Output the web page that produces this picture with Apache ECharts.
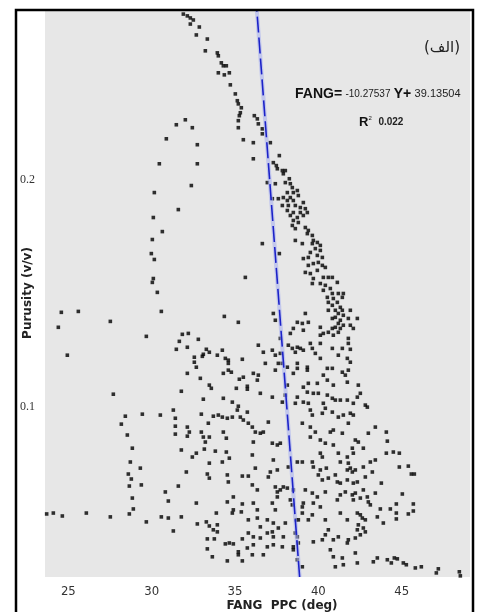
<!DOCTYPE html>
<html>
<head>
<meta charset="utf-8">
<script src="https://cdn.jsdelivr.net/npm/echarts@6/dist/echarts.min.js"></script>
<style>html,body{margin:0;padding:0;background:#fff;}#c{width:481px;height:612px;}</style>
</head>
<body>
<div id="c"></div>
<script>
// ---- data (FANG PPC in deg, Porosity in v/v) ----
const xTicks = [25, 30, 35, 40, 45];
const yTicks = [0.1, 0.2];
const fitCoef = { slope: -10.27537, intercept: 39.13504, r2: 0.022 };
const fitLine = [[38.878, 0.025], [36.309, 0.275]];

const upperTrend = [
[31.9,0.2732],[32.14,0.2724],[32.32,0.2715],[32.5,0.2706],[32.32,0.2688],[32.86,0.2675],[32.68,0.264],[33.34,0.2622],
[33.22,0.257],[33.94,0.2561],[34.0,0.2548],[34.18,0.2517],[34.3,0.2504],[34.48,0.2504],[34.0,0.2473],[34.36,0.2464],
[34.66,0.2473],[34.72,0.242],[35.02,0.238],[35.14,0.235],[35.2,0.2336],[35.38,0.2319],[35.32,0.2297],[35.26,0.2284],
[35.2,0.2262],[35.2,0.2231],[36.16,0.2284],[36.34,0.227],[36.4,0.2248],[36.64,0.2226]
];
const leftLoop = [
[32.02,0.2266],[31.48,0.2244],[32.44,0.2231],[30.88,0.2182],[32.74,0.2156],[30.46,0.2072],[32.74,0.2072],[32.38,0.1976],
[30.16,0.1945],[31.6,0.187],[30.1,0.1835],[30.64,0.1773],[30.04,0.1738],[29.98,0.1676],[30.16,0.165],[30.1,0.1566],
[30.04,0.1549],[30.34,0.1505],[24.58,0.1417],[25.6,0.1421],[24.4,0.1351],[24.94,0.1228],[35.62,0.1571]
];
const denseBand = [
[35.5,0.2178],[36.1,0.2165],[36.64,0.2204],[36.1,0.2094],[37.12,0.2165],[37.66,0.2108],[37.3,0.2077],[37.48,0.2064],
[37.54,0.205],[37.84,0.2042],[38.02,0.2042],[37.9,0.2028],[36.94,0.1989],[37.42,0.1984],[38.02,0.1989],[38.26,0.2006],
[38.32,0.1984],[38.44,0.1967],[38.14,0.1945],[38.5,0.1945],[38.74,0.1954],[38.8,0.1932],[38.32,0.1923],[37.9,0.1923],
[37.6,0.1918],[37.24,0.1918],[38.14,0.191],[38.5,0.191],[39.1,0.1901],[37.84,0.1888],[38.2,0.1888],[38.62,0.1888],
[38.92,0.1879],[39.22,0.1874],[38.14,0.1866],[38.5,0.1857],[38.92,0.1857],[39.34,0.1857],[38.32,0.1844],[38.74,0.1835],
[39.1,0.1844],[38.5,0.1822],[38.8,0.1813],[38.44,0.18],[38.62,0.1786],[39.22,0.1791],[39.4,0.1778],[39.34,0.1764],
[39.64,0.1756],[39.7,0.1734],[39.94,0.1725],[39.64,0.172],[40.12,0.1712],[39.82,0.1698],[40.12,0.169],[39.52,0.1681],
[39.94,0.1668],[40.24,0.1659],[39.4,0.1659],[39.1,0.1654],[38.62,0.1734],[39.04,0.172],[36.64,0.172],[37.66,0.1676],
[39.4,0.1624],[39.7,0.1632],[40.0,0.1637],[40.24,0.1624],[39.22,0.1593],[39.52,0.1588],[39.94,0.1602],[40.42,0.1615],
[40.6,0.1571],[40.3,0.1571],[40.84,0.1571],[39.7,0.1566],[39.64,0.1544],[40.12,0.1544],[40.42,0.1536],[41.14,0.1549],
[40.72,0.1522],[40.3,0.1514],[40.84,0.15],[41.2,0.15],[41.5,0.15],[40.54,0.1483],[40.9,0.1478],[41.44,0.1483],
[40.6,0.1461],[41.14,0.1461],[40.84,0.1448],[41.32,0.1439],[41.02,0.1426],[41.44,0.1426],[41.92,0.1426],[40.6,0.1426],
[41.2,0.1412],[41.5,0.1404],[41.02,0.1395],[40.84,0.139],[41.32,0.1382],[41.8,0.139],[42.34,0.139],[41.2,0.1368],
[41.02,0.1351],[41.5,0.136],[40.84,0.1346],[41.32,0.1346],[41.92,0.136],[42.1,0.1346]
];
const midCloud = [
[39.22,0.1412],[37.3,0.1412],[37.42,0.1382],[38.74,0.1373],[39.04,0.1368],[39.4,0.1373],[39.1,0.1338],[38.5,0.1346],
[38.32,0.1324],[37.72,0.1302],[40.12,0.1351],[40.3,0.1324],[40.6,0.1329],[40.12,0.1316],[40.9,0.1316],[41.2,0.1329],
[41.8,0.1302],[41.8,0.128],[36.4,0.1272],[36.7,0.1241],[37.24,0.125],[37.42,0.1228],[37.72,0.1236],[38.2,0.1272],
[38.44,0.1258],[38.74,0.1263],[38.92,0.1258],[38.62,0.1241],[39.1,0.125],[39.52,0.128],[39.64,0.1258],[40.12,0.128],
[40.84,0.1258],[41.44,0.1258],[41.92,0.1254],[39.82,0.1236],[40.12,0.1214],[41.2,0.1228],[41.74,0.1214],[36.82,0.1192],
[37.42,0.1162],[37.6,0.1192],[37.84,0.1192],[38.14,0.1175],[38.74,0.1192],[38.74,0.117],[39.34,0.1175],[39.34,0.1162],
[40.54,0.117],[40.84,0.117],[41.44,0.1153],[41.8,0.1162],[41.92,0.1197],[36.1,0.1148],[36.4,0.114],[36.34,0.1118],
[38.5,0.1148],[40.3,0.114],[41.62,0.114],[41.74,0.1109],[40.54,0.1118],
[30.58,0.1421],[27.52,0.1377],[34.36,0.1399],[35.2,0.1373],[29.68,0.1311],[31.84,0.132],[32.2,0.1324],[31.66,0.1289],
[31.48,0.1254],[32.14,0.1263],[32.8,0.1298],[33.28,0.1254],[33.1,0.1232],[33.04,0.1223],[33.46,0.1241],[33.94,0.1228],
[34.24,0.125],[34.42,0.1214],[34.6,0.1206],[34.6,0.1192],[35.44,0.121],[32.56,0.1219],[32.56,0.1197],[32.68,0.1175],
[32.14,0.1148],[32.92,0.1126],[34.3,0.1148],[34.6,0.1162],[34.78,0.1153],[35.26,0.1122],[35.5,0.1131],[35.74,0.1091],
[35.74,0.1078],[35.08,0.1082],[33.46,0.1096],[33.58,0.1082],[31.78,0.1069],[27.7,0.1056],[33.1,0.1034],[34.3,0.1038],
[34.84,0.1021],[35.2,0.1003],
[38.14,0.1096],[39.1,0.1087],[39.4,0.1104],[39.34,0.1065],[39.7,0.106],[39.94,0.1104],[40.9,0.1096],[42.4,0.1096],
[42.52,0.106],[36.52,0.106],[37.24,0.1043],[38.02,0.1052],[38.74,0.1043],[39.1,0.1021],[39.4,0.1016],[40.0,0.106],
[40.54,0.1052],[40.84,0.1038],[41.02,0.103],[40.3,0.1016],[41.32,0.103],[41.74,0.103],[42.1,0.1016],[42.34,0.1043],
[42.82,0.1008],[38.62,0.1016],[37.84,0.1021]
];
const lowerCloud = [
[28.42,0.0959],[28.18,0.0924],[29.44,0.0968],[30.52,0.0964],[31.3,0.0986],[31.42,0.095],[31.42,0.0915],[31.42,0.088],
[32.14,0.0911],[32.26,0.0889],[32.98,0.0968],[28.54,0.0876],[32.98,0.0889],[33.1,0.0867],[33.46,0.0867],[34.3,0.0889],
[33.4,0.0928],[33.7,0.0959],[34.0,0.0964],[34.24,0.0955],[34.54,0.095],[34.84,0.0955],[35.14,0.0986],[35.32,0.0955],
[35.74,0.0977],[35.5,0.0942],[35.8,0.0928],[32.14,0.0871],[34.48,0.0862],
[28.84,0.0818],[28.72,0.0757],[29.32,0.073],[28.6,0.0704],[28.78,0.0682],[28.66,0.0651],[29.38,0.0656],[28.84,0.0598],
[28.9,0.055],[28.66,0.0528],[27.52,0.0515],[29.68,0.0493],[30.58,0.0515],[31.0,0.051],[31.78,0.0515],[31.3,0.0453],
[30.82,0.0625],[31.0,0.0585],[31.6,0.0651],[32.08,0.0713],[31.78,0.081],[32.44,0.0779],[32.68,0.0796],[33.22,0.0845],
[33.16,0.0814],[33.82,0.0805],[34.48,0.0801],[34.66,0.0774],[34.24,0.0757],[33.46,0.0752],[33.34,0.0704],[33.46,0.0686],
[32.68,0.0576],[32.74,0.0484],[33.28,0.0493],[33.46,0.0475],[33.94,0.048],[33.7,0.0458],[33.94,0.0449],[33.88,0.0532],
[33.34,0.0418],[33.76,0.0418],[33.34,0.0374],[33.64,0.0339],[34.54,0.0321],[34.42,0.0396],[34.66,0.04],[34.9,0.0396],
[35.44,0.0418],[35.2,0.0361],[35.2,0.0348],[35.74,0.0378],[35.44,0.0321],[34.54,0.0581],[34.9,0.0603],[35.44,0.0572],
[34.9,0.0546],[34.84,0.0532],[35.38,0.0537],[34.54,0.07],[34.6,0.0669],[35.44,0.0695],[35.8,0.0695],[35.8,0.0502],
[35.8,0.0444],[23.7,0.0528],[24.1,0.0532],[24.64,0.0519],[26.08,0.0532],
[36.04,0.0911],[36.22,0.0889],[36.52,0.0884],[36.7,0.0889],[37.0,0.0933],[36.1,0.0845],[36.04,0.0788],[36.22,0.073],
[36.1,0.0392],[36.04,0.0348],[36.7,0.0348],[36.52,0.0422],[36.94,0.0383],[37.3,0.0392],[37.84,0.0383],[37.9,0.0427],
[37.3,0.0427],[36.94,0.0444],[37.24,0.0449],[36.52,0.0471],[36.34,0.051],[36.94,0.0502],[37.3,0.0488],[37.6,0.0466],
[38.02,0.0488],[37.42,0.0546],[37.24,0.0576],[37.54,0.0603],[37.54,0.0625],[37.42,0.0647],[37.72,0.0634],[37.9,0.0647],
[38.14,0.0642],[38.5,0.0634],[38.32,0.059],[38.44,0.0568],[38.68,0.0502],[38.8,0.0502],[39.04,0.0559],[39.1,0.0576],
[39.04,0.0532],[38.62,0.0444],[38.74,0.0427],[38.8,0.04],[37.12,0.0713],[37.54,0.0722],[37.0,0.0691],[38.2,0.0735],
[38.74,0.0757],[37.3,0.0766],[37.54,0.0832],[37.24,0.084],[37.72,0.084],[36.04,0.0656],[36.34,0.0634],[36.1,0.0576],
[36.34,0.0546],[36.1,0.0427],[38.5,0.0383],[38.5,0.037],[38.74,0.0326],[39.04,0.0295]
];
const rightCloud = [
[39.52,0.0986],[39.64,0.0964],[40.24,0.0972],[40.42,0.0994],[40.84,0.0977],[41.2,0.0955],[41.5,0.0964],[41.92,0.0972],
[42.1,0.0964],[41.8,0.0928],[42.94,0.0999],[39.04,0.0928],[39.52,0.0911],[39.82,0.0889],[40.72,0.0889],[40.9,0.0898],
[41.44,0.0884],[42.22,0.0854],[42.4,0.0845],[43.0,0.0884],[43.42,0.0911],[39.52,0.0867],[40.12,0.0854],[40.42,0.084],
[40.9,0.0832],[42.04,0.0818],[42.7,0.0818],[40.12,0.0796],[41.2,0.0796],[41.74,0.0779],[42.1,0.0796],[39.04,0.0757],
[40.24,0.0779],[39.64,0.0757],[39.7,0.0735],[40.12,0.0722],[40.48,0.073],[41.32,0.0757],[41.8,0.0752],[41.74,0.0722],
[41.92,0.073],[42.04,0.0713],[42.22,0.0722],[43.12,0.0757],[43.42,0.0766],[42.7,0.0735],[43.24,0.0713],[40.0,0.07],
[40.24,0.0678],[40.6,0.0686],[41.02,0.07],[41.14,0.0669],[41.32,0.0664],[41.74,0.0678],[42.1,0.0664],[42.34,0.0669],
[42.82,0.0691],[39.22,0.0634],[39.64,0.062],[39.94,0.0603],[40.42,0.0625],[41.32,0.0612],[41.62,0.0625],[42.04,0.0612],
[42.22,0.062],[42.52,0.0598],[42.7,0.0634],[42.94,0.0603],[43.42,0.062],[41.14,0.059],[42.1,0.059],[43.0,0.0581],
[43.12,0.0568],[42.34,0.0532],[42.52,0.0524],[42.64,0.051],[42.82,0.0502],[42.4,0.048],[42.34,0.0458],[42.7,0.0466],
[42.82,0.0449],[41.32,0.0532],[41.74,0.0502],[42.22,0.0422],[42.52,0.0436],[41.8,0.0414],[41.74,0.04],[39.7,0.0576],
[39.64,0.0524],[40.12,0.0559],[39.4,0.0502],[40.42,0.0502],[40.6,0.0458],[40.42,0.0436],[40.24,0.0414],[39.7,0.0405],
[40.9,0.0414],[41.2,0.0427],[40.72,0.037],[40.9,0.0339],[41.44,0.0334],[41.02,0.0295],[41.5,0.0304],[42.22,0.0356],
[42.34,0.0312],[43.3,0.0317],[43.54,0.0334],[43.72,0.055],[43.54,0.0515],
[44.08,0.0889],[44.14,0.0849],[44.08,0.0796],[44.5,0.0801],[44.86,0.0796],[44.86,0.0735],[45.4,0.0739],[45.58,0.0704],
[45.76,0.0704],[43.78,0.0664],[45.04,0.0616],[44.68,0.0572],[45.7,0.0572],[44.32,0.055],[44.68,0.0532],[45.7,0.0541],
[45.4,0.0528],[44.68,0.0506],[43.9,0.0488],[44.14,0.0326],[44.38,0.0312],[44.56,0.0334],[44.74,0.033],[45.1,0.0312],
[45.28,0.0304],[45.82,0.029],[46.18,0.0295],[47.08,0.0268],[47.2,0.0286],[48.46,0.0273],[48.52,0.0255]
];

const allPoints = [].concat(upperTrend, leftLoop, denseBand, midCloud, lowerCloud, rightCloud);

const chart = echarts.init(document.getElementById('c'), null, { renderer: 'canvas' });
chart.setOption({
  animation: false,
  backgroundColor: '#ffffff',
  grid: { left: 45, top: 10, right: 11, bottom: 35, show: true, backgroundColor: '#e7e7e7', borderWidth: 0 },
  xAxis: {
    type: 'value', min: 23.6, max: 49.1,
    axisLine: { show: false }, axisTick: { show: false },
    splitLine: { show: false },
    axisLabel: { customValues: xTicks, margin: 8, color: '#333', fontSize: 13, fontFamily: 'DejaVu Sans Condensed, DejaVu Sans' }
  },
  yAxis: {
    type: 'value', min: 0.025, max: 0.275,
    axisLine: { show: false }, axisTick: { show: false },
    splitLine: { show: false },
    axisLabel: { customValues: yTicks, margin: 10, align: 'right', color: '#333', fontSize: 12, fontFamily: 'Liberation Serif',
      formatter: v => v.toFixed(1) }
  },
  series: [
    { type: 'scatter', data: allPoints, symbol: 'rect', symbolSize: 3.6, itemStyle: { color: '#000' }, z: 3 },
    { type: 'line', data: fitLine, symbol: 'none', z: 4,
      lineStyle: { color: '#aab2f0', width: 4, opacity: 0.6 } },
    { type: 'line', data: fitLine, symbol: 'none', z: 5,
      lineStyle: { color: '#1c22c8', width: 1.6, type: [16, 5] } }
  ],
  graphic: [
    { type: 'rect', shape: { x: 16, y: 10, width: 457, height: 620 }, style: { fill: 'none', stroke: '#000', lineWidth: 2.5 }, z: 100 },
    { type: 'text', x: 442, y: 48, style: { text: '(الف)', fontSize: 15, fill: '#222', align: 'center', verticalAlign: 'middle', fontFamily: 'DejaVu Sans' } },
    { type: 'text', x: 295, y: 94, style: {
        text: '{b|FANG=} {s|-' + Math.abs(fitCoef.slope) + '} {b|Y+} {m|' + fitCoef.intercept + '}',
        verticalAlign: 'middle',
        rich: {
          b: { fontSize: 14, fontWeight: 'bold', fill: '#111', fontFamily: 'Liberation Sans Narrow, Liberation Sans' },
          s: { fontSize: 10, fill: '#222', fontFamily: 'Liberation Sans Narrow, Liberation Sans' },
          m: { fontSize: 11, fill: '#222', fontFamily: 'Liberation Sans Narrow, Liberation Sans' }
        } } },
    { type: 'text', x: 359, y: 122, style: {
        text: '{b|R}{sup|2}  {s|' + fitCoef.r2.toFixed(3) + '}',
        verticalAlign: 'middle',
        rich: {
          b: { fontSize: 13, fontWeight: 'bold', fill: '#111', fontFamily: 'Liberation Sans' },
          sup: { fontSize: 6, fill: '#111', verticalAlign: 'top', padding: [0, 0, 6, 0] },
          s: { fontSize: 10, fontWeight: 'bold', fill: '#222', fontFamily: 'Liberation Sans' }
        } } },
    { type: 'text', x: 28, y: 293, rotation: Math.PI / 2, style: { text: 'Purusity (v/v)', fontSize: 12, fontWeight: 'bold', fill: '#222', align: 'center', verticalAlign: 'middle', fontFamily: 'DejaVu Sans' } },
    { type: 'text', x: 282, y: 606, style: { text: 'FANG  PPC (deg)', fontSize: 12, fontWeight: 'bold', fill: '#222', align: 'center', verticalAlign: 'middle', fontFamily: 'DejaVu Sans' } }
  ]
});
</script>
</body>
</html>
